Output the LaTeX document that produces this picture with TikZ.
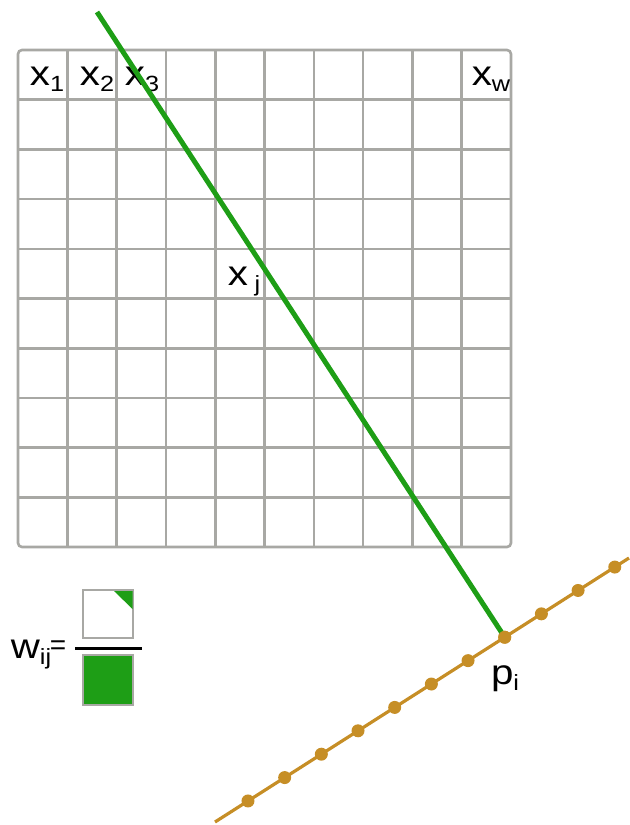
\documentclass[tikz,border=0pt]{standalone}
\usepackage{fontspec}
\setmainfont{Liberation Sans}
\usetikzlibrary{positioning, calc}

\definecolor{gridgray}{RGB}{168,168,164}
\definecolor{raygreen}{RGB}{30,158,22}
\definecolor{detorange}{RGB}{198,142,38}
\newcommand{\lowsub}[1]{\raisebox{-3pt}{\fontsize{11}{11}\selectfont #1}}
\newcommand{\wide}[1]{\scalebox{1.15}[1]{#1}}

\tikzset{
  gridline/.style={gridgray, line width=1.3pt},
  lbl/.style={font=\fontsize{17.5}{17.5}\selectfont, inner sep=0pt, anchor=base},
  det/.style={circle, fill=detorange, inner sep=0pt, minimum size=6.5pt},
  ray/.style={raygreen, line width=2.5pt},
  cell/.style={draw=gridgray, line width=0.8pt},
}

\begin{document}
\begin{tikzpicture}[x=0.5pt, y=-0.5pt]
\useasboundingbox (0,0) rectangle (629,825);

\foreach \i in {1,...,9} {
  \draw[gridline] ({18+49.3*\i},50) -- ({18+49.3*\i},547);
  \draw[gridline] (18,{50+49.7*\i}) -- (511,{50+49.7*\i});
}
\draw[gridline, rounded corners=2pt] (18,50) rectangle (511,547);

\node[lbl] (x1) at (47,85) {\wide{x\lowsub{1}}};
\node[lbl] (x2) at (97,85) {\wide{x\lowsub{2}}};
\node[lbl] (x3) at (142,85) {\wide{x\lowsub{3}}};
\node[lbl] (xw) at (491,85) {\wide{x\lowsub{w}}};
\node[lbl] (xj) at (244,285) {\wide{x\,\lowsub{j}}};

\coordinate (ls) at (215,822);
\coordinate (le) at (629,558);
\coordinate (top) at (97,12);
\draw[detorange, line width=1.6pt] (ls) -- (le);
\foreach \k in {0,...,10}
  \node[det] (d\k) at ($(ls)!{0.0797+0.0886*\k}!(le)$) {};
\draw[ray] (top) -- (d7.center);
\node[det] at (d7) {};
\node[lbl] (pi) at (505,684) {\wide{p\lowsub{i}}};

\node[lbl] (wij) at (31,658) {\wide{w\lowsub{ij}}};
\node[lbl, font=\fontsize{14}{14}\selectfont] (eq) at (58,654) {=};
\draw[line width=1.5pt] (75,648) -- (142,648);
\draw[cell, fill=white] (83,590) rectangle (133,638);
\fill[raygreen] (114,591) -- (132.5,591) -- (132.5,609) -- cycle;
\draw[cell, fill=raygreen] (83,655) rectangle (133,705);
\end{tikzpicture}
\end{document}
